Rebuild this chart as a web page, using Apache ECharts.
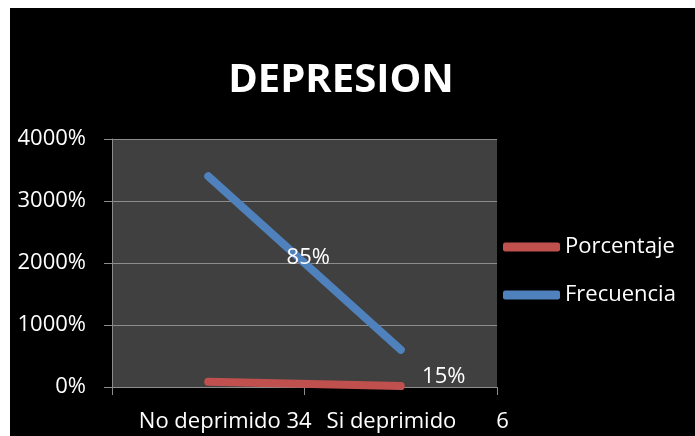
<!DOCTYPE html>
<html><head><meta charset="utf-8">
<script src="https://cdn.jsdelivr.net/npm/echarts@6/dist/echarts.min.js"></script>
<style>
html,body{margin:0;padding:0;background:#fff;width:695px;height:436px;overflow:hidden}
#c{position:absolute;left:10px;top:8px;width:685px;height:428px}
</style></head>
<body><div id="c"></div>
<script>
var titleText = "DEPRESION";
var categories = ["No deprimido 34", "Si deprimido       6"];
var seriesNames = ["Porcentaje", "Frecuencia"];
var porcentaje = [0.85, 0.15];
var frecuencia = [34, 6];
var yTicks = [0, 10, 20, 30, 40];

var FONT = "Open Sans";
var chart = echarts.init(document.getElementById('c'));
function pct(v){ return Math.round(v*100) + '%'; }
chart.setOption({
  backgroundColor: '#000',
  animation: false,
  title: {
    text: titleText, left: 326, top: 48, textAlign: 'center',
    textStyle: {color:'#fff', fontFamily: FONT, fontWeight:'bold', fontSize: 40}
  },
  grid: {left: 102, top: 131, right: 198, bottom: 49, show: true,
    backgroundColor: '#404040', borderWidth: 0},
  legend: {
    orient: 'vertical', left: 488, top: 222, itemGap: 24,
    itemWidth: 57, itemHeight: 9, icon: 'roundRect',
    textStyle: {color:'#fff', fontFamily: FONT, fontSize: 22, lineHeight: 24},
    data: seriesNames
  },
  xAxis: {
    type: 'category', data: categories, boundaryGap: true,
    axisLine: {lineStyle: {color:'#8c8c8c', width: 1}},
    axisTick: {show: true, length: 8, lineStyle: {color:'#8c8c8c'}},
    axisLabel: {color:'#fff', fontFamily: FONT, fontSize: 22, margin: 24, interval: 0,
      hideOverlap: false, padding: [0,0,0,34]}
  },
  yAxis: {
    type: 'value', min: yTicks[0], max: yTicks[yTicks.length-1], interval: yTicks[1]-yTicks[0],
    axisLine: {show: true, lineStyle: {color:'#8c8c8c'}},
    axisTick: {show: true, length: 8, lineStyle: {color:'#8c8c8c'}},
    splitLine: {lineStyle: {color:'#8c8c8c', width: 1}},
    axisLabel: {color:'#fff', fontFamily: FONT, fontSize: 22, margin: 26,
      formatter: function(v){ return pct(v); }}
  },
  series: [
    {
      name: seriesNames[0], type: 'line', data: [
        {value: porcentaje[0], label: {offset: [100, -124]}},
        {value: porcentaje[1], label: {offset: [43, -9]}}
      ],
      symbol: 'circle', symbolSize: 1, showSymbol: true,
      lineStyle: {color:'#C0504D', width: 8, cap: 'round'},
      itemStyle: {color:'#C0504D'},
      label: {show: true, position: 'inside', color:'#fff', fontFamily: FONT, fontSize: 22,
        align: 'center', verticalAlign: 'middle',
        formatter: function(p){ return pct(p.value); }},
      z: 3
    },
    {
      name: seriesNames[1], type: 'line', data: frecuencia,
      symbol: 'none',
      lineStyle: {color:'#4F81BD', width: 8, cap: 'round'},
      itemStyle: {color:'#4F81BD'},
      z: 2
    }
  ]
});
</script></body></html>
